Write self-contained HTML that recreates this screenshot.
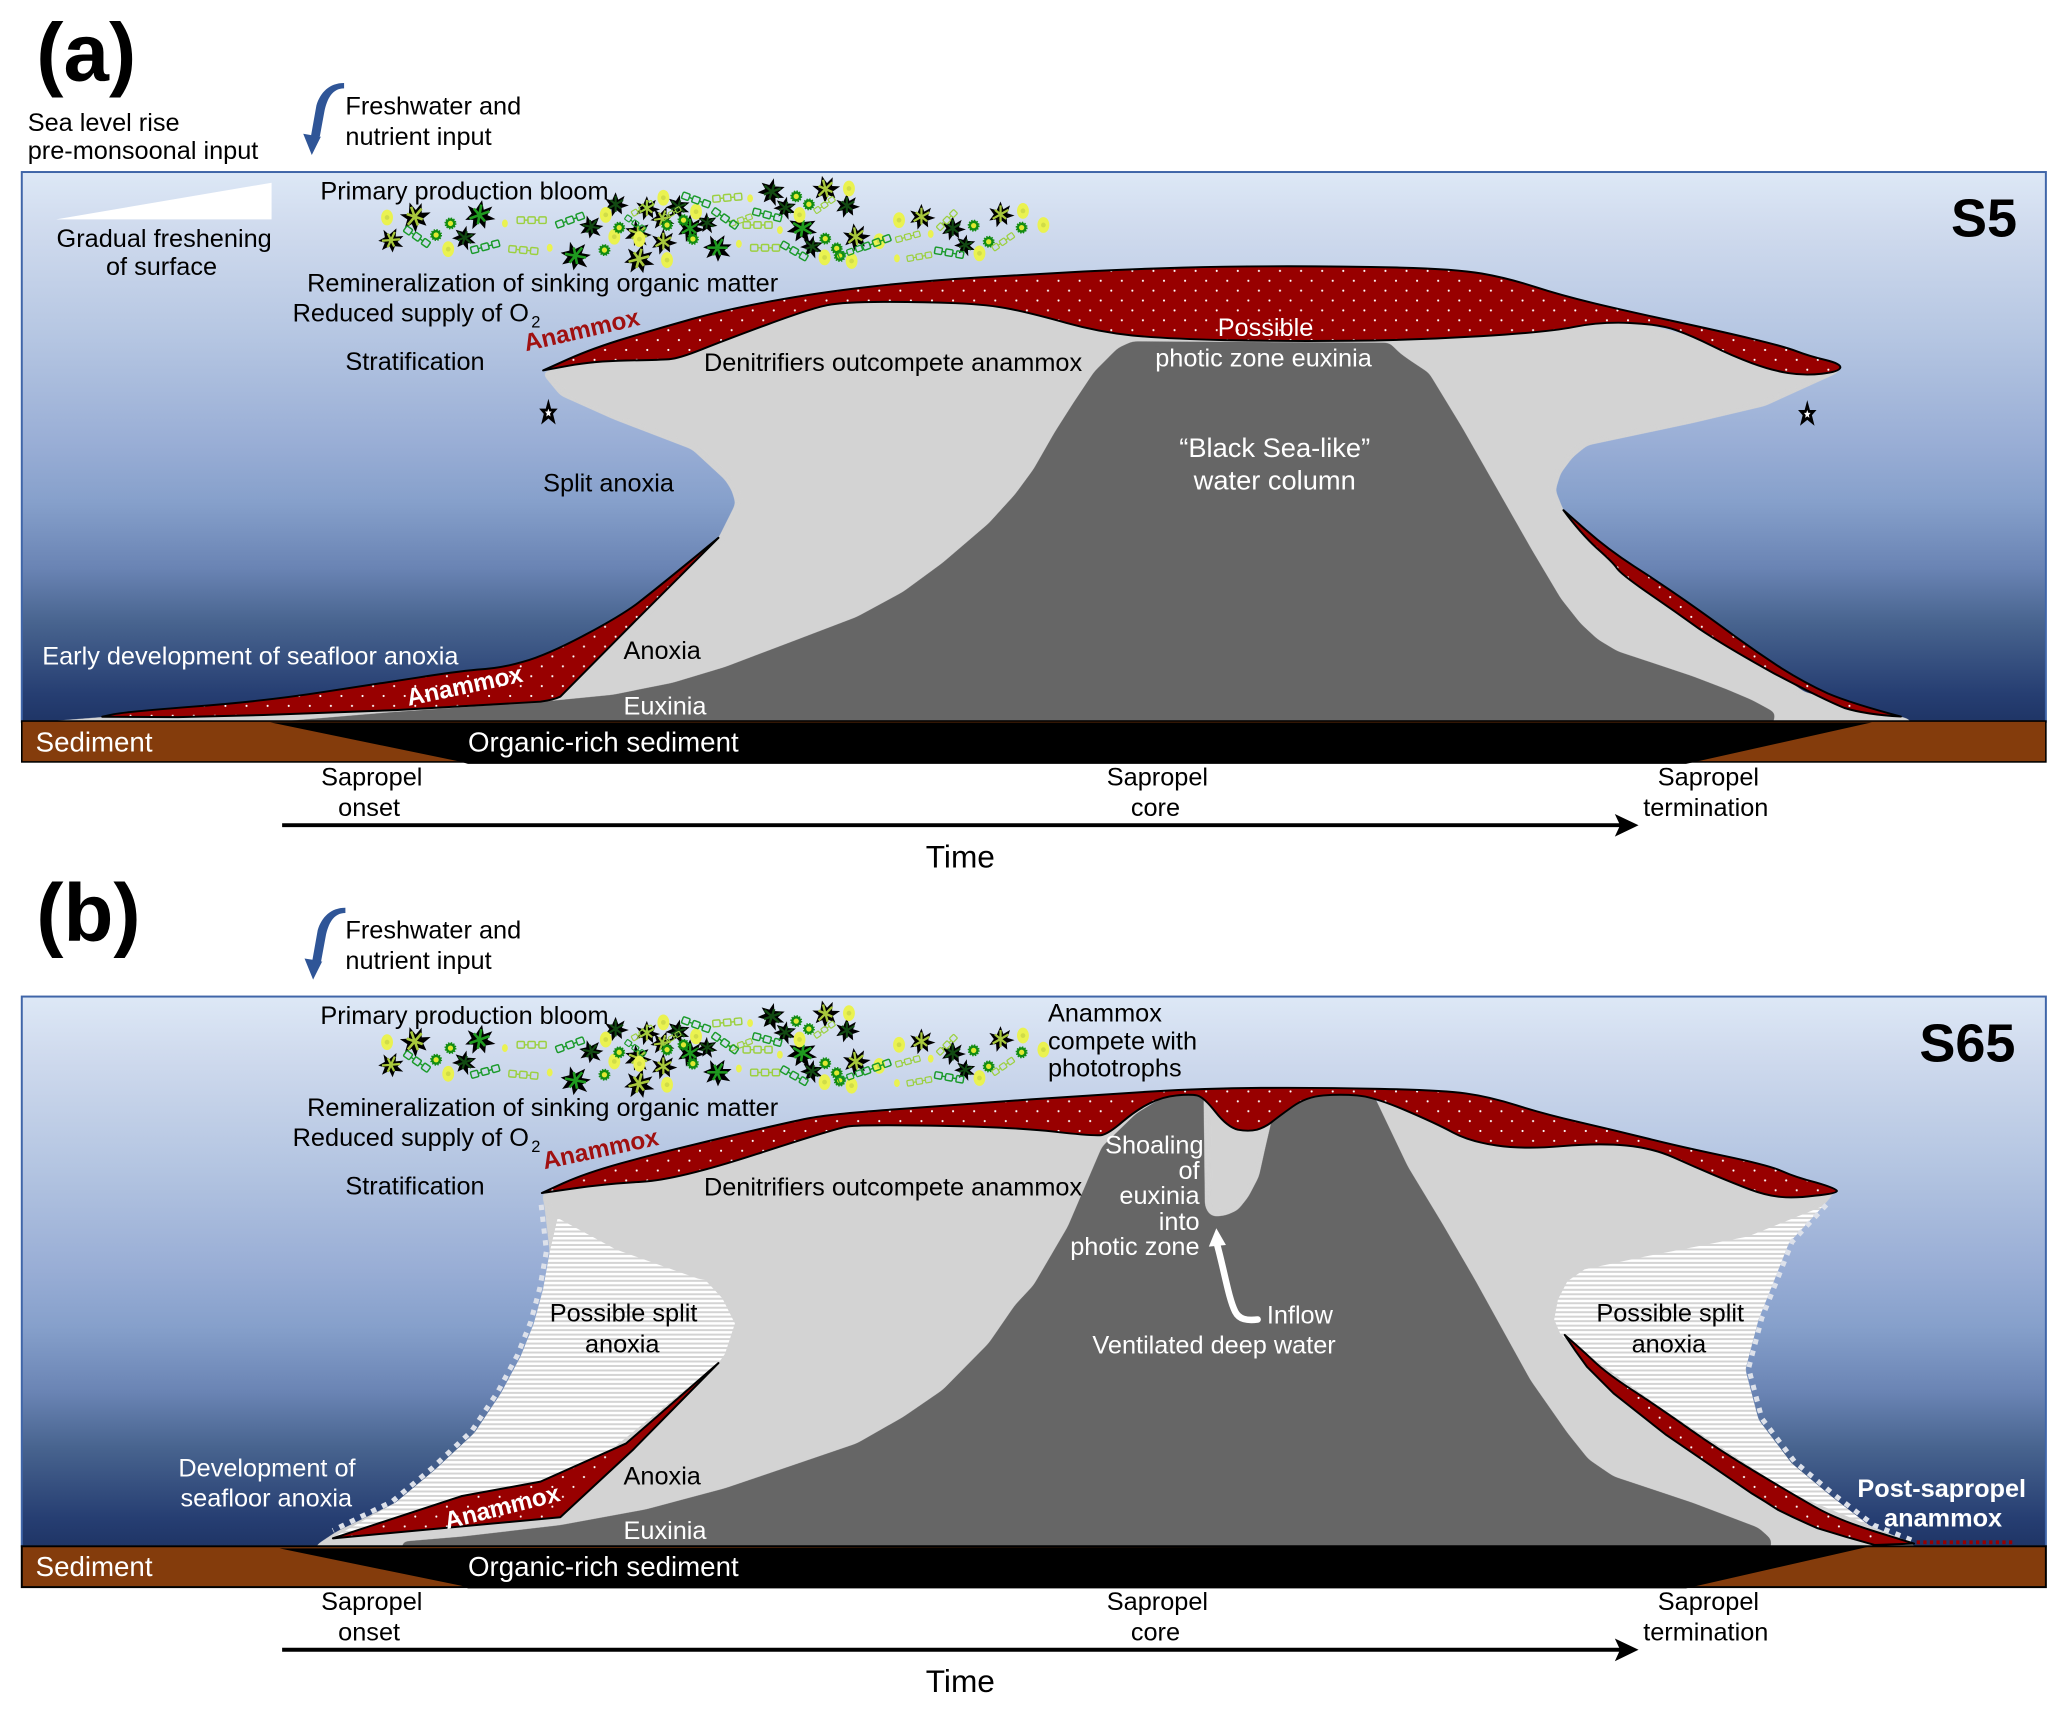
<!DOCTYPE html>
<html><head><meta charset="utf-8"><style>
html,body{margin:0;padding:0;background:#fff}
svg{display:block}
text{font-family:"Liberation Sans",sans-serif;font-size:19.2px;fill:#000}
.w{fill:#fff}.b{font-weight:bold}.m{text-anchor:middle}.e{text-anchor:end}
.r{fill:url(#dots);stroke:#000;stroke-width:1.5;stroke-linejoin:round}
.big{font-size:21px}
</style></head><body>
<svg xmlns="http://www.w3.org/2000/svg" width="2067" height="1713" viewBox="0 0 1568 1299.5">
<defs>
<filter id="sm" filterUnits="userSpaceOnUse" x="0" y="0" width="1568" height="1300" color-interpolation-filters="sRGB">
<feGaussianBlur stdDeviation="2.5"/>
<feComponentTransfer><feFuncA type="linear" slope="12" intercept="-5.5"/></feComponentTransfer>
</filter>
<linearGradient id="sea" x1="0" y1="0" x2="0" y2="1">
<stop offset="0" stop-color="#dde8f6"/><stop offset=".1" stop-color="#d0dbee"/><stop offset=".3" stop-color="#b5c6e2"/><stop offset=".5" stop-color="#98add5"/><stop offset=".6" stop-color="#86a0cb"/><stop offset=".72" stop-color="#6a84b4"/><stop offset=".82" stop-color="#48648f"/><stop offset=".95" stop-color="#263e72"/><stop offset="1" stop-color="#1f3566"/>
</linearGradient>
<pattern id="dots" patternUnits="userSpaceOnUse" width="16" height="15">
<rect width="16" height="15" fill="#980000"/><circle cx="3" cy="3" r=".8" fill="#fff"/><circle cx="11" cy="10.5" r=".8" fill="#fff"/>
</pattern>
<pattern id="hatch" patternUnits="userSpaceOnUse" width="10" height="3.4">
<rect width="10" height="3.4" fill="#fff"/><rect y="1.9" width="10" height="1.5" fill="#d3d3d3"/>
</pattern>
<g id="l"><path d="M0-11.500L2.500-4.500 8.500-8 6-1 12.500 1 5.500 3.500 6 9.500 1 5.500-3.500 11.500-4 4.500-10 5.500-6 0-10-5.500-3.500-3.500Z" fill="#000" stroke="none"/><path d="M0-8L0 7M-7 4L7-4M-5-4L5 4" fill="none" stroke-width="2"/></g>
<g id="g"><circle r="3.800" fill="#128c12" stroke="#128c12" stroke-width="1.500" stroke-dasharray="1 1"/><circle r="2" fill="#dfe830"/></g>
<g id="y"><ellipse rx="4.500" ry="6" fill="#eaf250"/><circle r="1.800" fill="#d0dc48"/></g>
<g id="s"><ellipse rx="2.200" ry="3" fill="#eaf250"/></g>
<g id="c" fill="none" stroke-width="1.100"><rect x="-11" y="-2.500" width="5.500" height="5" rx="1"/><rect x="-2.800" y="-2.500" width="5.500" height="5" rx="1"/><rect x="5.500" y="-2.500" width="5.500" height="5" rx="1"/><path d="M-5.500 0H-2.800M2.700 0H5.500"/></g>
<g id="bloom">
<g stroke="#1f9a1f">
<use href="#l" transform="translate(363.700 163.100) rotate(10)"/><use href="#l" transform="translate(436.500 194) rotate(40)"/><use href="#l" transform="translate(523.500 173.200) scale(.9)"/><use href="#l" transform="translate(544.200 187.900) scale(.95) rotate(30)"/><use href="#l" transform="translate(608.600 173.200) rotate(60)"/>
</g>
<g stroke="#a8c83c">
<use href="#l" transform="translate(314.600 164.400) rotate(-20)"/><use href="#l" transform="translate(296.600 182.100) scale(.85) rotate(25)"/><use href="#l" transform="translate(484.600 196.500) rotate(15)"/><use href="#l" transform="translate(503.200 183.400) scale(.85)"/><use href="#l" transform="translate(484 177) scale(.9) rotate(50)"/><use href="#l" transform="translate(490.700 158) scale(.8)"/><use href="#l" transform="translate(502.500 165.700) scale(.8) rotate(20)"/><use href="#l" transform="translate(626.200 143.400) scale(.9) rotate(-15)"/><use href="#l" transform="translate(649.200 179.600) scale(.9) rotate(-10)"/><use href="#l" transform="translate(699 164.400) scale(.85)"/><use href="#l" transform="translate(759 162.600) scale(.85)"/>
</g>
<g stroke="#124a12">
<use href="#l" transform="translate(352.500 180.300) scale(.8) rotate(70)"/><use href="#l" transform="translate(448.400 172) scale(.8) rotate(40)"/><use href="#l" transform="translate(467 155) scale(.8)"/><use href="#l" transform="translate(514.400 156.800) scale(.8) rotate(70)"/><use href="#l" transform="translate(536.400 169) scale(.7) rotate(60)"/><use href="#l" transform="translate(585.500 145.400) scale(.9) rotate(70)"/><use href="#l" transform="translate(595.700 157.600) scale(.75) rotate(70)"/><use href="#l" transform="translate(642.400 156) scale(.8)"/><use href="#l" transform="translate(616 187) scale(.75) rotate(70)"/><use href="#l" transform="translate(722.700 173.200) scale(.8)"/><use href="#l" transform="translate(732.200 185.900) scale(.7) rotate(70)"/>
</g>
<use href="#y" x="293.600" y="165"/><use href="#s" x="383" y="169.500"/><use href="#y" x="340" y="189"/><use href="#s" x="417" y="188"/><use href="#y" x="459.500" y="163"/><use href="#y" x="466" y="179.600"/><use href="#y" x="485" y="181.400"/><use href="#y" x="506" y="197.300"/><use href="#y" x="503.200" y="150"/><use href="#y" x="528" y="160.600"/><use href="#s" x="569" y="150.500"/><use href="#y" x="644" y="143"/><use href="#s" x="560.500" y="185"/><use href="#s" x="591.600" y="174.500"/><use href="#y" x="606.500" y="163"/><use href="#y" x="646" y="198"/><use href="#y" x="625.500" y="195.300"/><use href="#y" x="667" y="183"/><use href="#y" x="682" y="167"/><use href="#s" x="706" y="177.500"/><use href="#y" x="743" y="192.200"/><use href="#y" x="776" y="160"/><use href="#y" x="791.500" y="170.700"/><use href="#s" x="680.400" y="196"/>
<use href="#g" x="341.700" y="169.500"/><use href="#g" x="330.800" y="178.300"/><use href="#g" x="458.500" y="189.700"/><use href="#g" x="469.700" y="172.700"/><use href="#g" x="518.500" y="167"/><use href="#g" x="506" y="170.700"/><use href="#g" x="525.600" y="181.300"/><use href="#g" x="604" y="149"/><use href="#g" x="613.600" y="155"/><use href="#g" x="626" y="181"/><use href="#g" x="634.700" y="188.400"/><use href="#g" x="637" y="194.200"/><use href="#g" x="738.600" y="171.200"/><use href="#g" x="750" y="183.400"/><use href="#g" x="775" y="172.700"/>
<g stroke="#9cd040">
<use href="#c" transform="translate(403.300 167)"/><use href="#c" transform="translate(397 189.700) rotate(5)"/><use href="#c" transform="translate(487.300 158) rotate(-30) scale(.8)"/><use href="#c" transform="translate(551.700 150) rotate(-5)"/><use href="#c" transform="translate(509.300 162) rotate(-30) scale(.7)"/><use href="#c" transform="translate(562 167) rotate(-20) scale(.8)"/><use href="#c" transform="translate(574.700 170.700)"/><use href="#c" transform="translate(580.400 188)"/><use href="#c" transform="translate(625.500 155.500) rotate(-35) scale(.8)"/><use href="#c" transform="translate(688.700 179.600) rotate(-15) scale(.85)"/><use href="#c" transform="translate(697.400 194.700) rotate(-10) scale(.85)"/><use href="#c" transform="translate(718.300 167) rotate(-45) scale(.85)"/><use href="#c" transform="translate(761 183.400) rotate(-35) scale(.85)"/>
</g>
<g stroke="#1a9a2a">
<use href="#c" transform="translate(432.400 167) rotate(-20)"/><use href="#c" transform="translate(316.300 179.600) rotate(35)"/><use href="#c" transform="translate(368 187.200) rotate(-15)"/><use href="#c" transform="translate(528 151.700) rotate(20)"/><use href="#c" transform="translate(482 169.500) rotate(35) scale(.8)"/><use href="#c" transform="translate(550 165.700) rotate(35)"/><use href="#c" transform="translate(582 163) rotate(15)"/><use href="#c" transform="translate(602.500 190.400) rotate(30)"/><use href="#c" transform="translate(645 191) rotate(-20) scale(.85)"/><use href="#c" transform="translate(665 183.900) rotate(-20)"/><use href="#c" transform="translate(720 191.700) rotate(10)"/>
</g>
</g>
<g id="star"><path d="M0-10.500L2-3 7-3 3.500 1 5.500 9 0 4.500-5.500 9-3.500 1-7-3-2-3Z" fill="#000"/><path d="M0-3L.8-.8 2.500-.8 1.200 .8 1.600 3 0 1.800-1.600 3-1.200 .8-2.500-.8-.8-.8Z" fill="#fff"/></g>
<g id="timeline">
<path d="M214 626H1232" stroke="#000" stroke-width="3" fill="none"/>
<path d="M1243 626L1225 617.500 1229 626 1225 634.700Z" fill="#000"/>
<text class="m" x="282" y="596">Sapropel</text><text class="m" x="280" y="619">onset</text>
<text class="m" x="878" y="596">Sapropel</text><text class="m" x="876.500" y="619">core</text>
<text class="m" x="1296" y="596">Sapropel</text><text class="m" x="1294" y="619">termination</text>
<text class="m" style="font-size:24px" x="728.500" y="658">Time</text>
</g>
<path id="fw" d="M261 63L261 67C252 67 248 75 246 85L242.500 104 243.500 103.500 236.500 117.600 230 101.500 236 102.500 240 80C243 70 250 63 261 63Z" fill="#2f5597"/>
</defs>

<rect width="1568" height="1299.500" fill="#fff"/>

<!-- PANEL A -->
<rect x="16.500" y="130.500" width="1535.500" height="417" fill="url(#sea)" stroke="#3f65a8" stroke-width="1.500"/>
<path filter="url(#sm)" fill="#d3d3d3" d="M411 283L450 268 620 228 784 220 934 220 1104 220 1184 230 1304 260 1397 278 1394 283 1339 308 1284 321 1204 338 1193 347 1184 359 1180 372 1186 387 1220 425 1279 462 1369 525 1449 545.500 1452 556 20 556 20 548.500 77 544 200 540 300 536 410 530 425 525 480 473 545 408 552 394 558 382 555 372 550 364 525 341 465 318 425 300Z"/>
<path filter="url(#sm)" fill="#666" d="M190 556L205 548 300 540 415 532 465 527 510 518 550 506 600 487 650 468 685 449 715 427 750 397 770 375 784 356 800 328 814 306 830 282 839 273 848 264 859 259 1054 260 1062 268 1069 273 1084 283 1109 324 1162 417 1184 454 1199 473 1212 485 1227 494 1284 513 1310 523 1329 531 1342 538 1347 541 1343 556Z"/>
<rect x="16.500" y="547" width="1535.500" height="31" fill="#843c0c" stroke="#000" stroke-width="1.200"/>
<path d="M205 548L350 578 355 579.500 1279 579.500 1420 548Z" fill="#000"/>
<path d="M206 138.600V166.400H42.500Z" fill="#fff"/>
<path class="r" d="M412 281L431 272.500Q450 264 475 256.500Q500 249 525 242Q550 235 585 228.500Q620 222 660 217.500Q700 213 742 210.500Q784 208 822 206Q860 204 897 203Q934 202 977 202Q1020 202 1062 203Q1104 204 1124 207.500Q1144 211 1164 217.500Q1184 224 1209 230Q1234 236 1269 243.500Q1304 251 1329 257Q1354 263 1363 266.500Q1372 270 1384.500 273Q1397 276 1396 279Q1395 282 1382 283.500Q1369 285 1356.500 283Q1344 281 1329 275.500Q1314 270 1299 262.500Q1284 255 1271.500 250.500Q1259 246 1236.500 245Q1214 244 1194 248Q1174 252 1124 255Q1074 258 1024 258.500Q974 259 929 258Q884 257 859 254.500Q834 252 809 245Q784 238 767 234.500Q750 231 725 230Q700 229 670 229Q640 229 627.500 231.500Q615 234 582.500 246Q550 258 532.500 265Q515 272 507.500 272.500Q500 273 475 273.500Q450 274 431 277.500Z"/>
<path class="r" d="M77.500 543.700L86 541.900Q95 540 147 536Q200 532 245 525Q290 518 317 514Q345 509.600 362 508Q380 507 397 502Q415 497 445 481Q475 465 487 455Q500 445 545 408L480 473 425 528.500Q420 531 410 532.300L300 538.700 200 542.400 135 544Z"/>
<path class="r" d="M1186 387L1203 402Q1220 417 1239.500 429.500Q1259 442 1279 456Q1299 470 1316.500 483Q1334 495.600 1351.500 507Q1369 518 1386.500 526Q1404 533.500 1442 543.600Q1415 542 1399 537Q1384 531 1346 511Q1309 490.500 1289 477Q1269 462.700 1249 449Q1229 435 1226.500 431Q1224 427 1211.500 416Q1199 404.600 1186 387Z"/>
<use href="#star" x="416" y="313"/><use href="#star" x="1371" y="314"/>
<use href="#bloom"/>
<use href="#fw"/>
<use href="#timeline"/>

<text class="b" style="font-size:62px" x="27.500" y="61">(a)</text>
<text x="21" y="99.500">Sea level rise</text><text x="21" y="120.700">pre-monsoonal input</text>
<text x="262" y="87">Freshwater and</text><text x="262" y="110">nutrient input</text>
<text x="243" y="151.500">Primary production bloom</text>
<text class="m" x="124.500" y="187.500">Gradual freshening</text><text class="m" x="122.500" y="208.600">of surface</text>
<text x="233" y="221">Remineralization of sinking organic matter</text>
<text x="222" y="244">Reduced supply of O</text><text style="font-size:12.500px" x="403" y="248.500">2</text>
<text class="b" style="font-size:18.500px;fill:#a01010" transform="translate(399 266.500) rotate(-13)">Anammox</text>
<text x="262" y="280.500">Stratification</text>
<text x="534" y="281.500">Denitrifiers outcompete anammox</text>
<text class="w m" x="960" y="255">Possible</text><text class="w m" x="958.500" y="278">photic zone euxinia</text>
<text class="w m" style="font-size:20.700px" x="967" y="346.500">“Black Sea-like”</text><text class="w m" style="font-size:20.700px" x="967" y="371.500">water column</text>
<text class="b" style="font-size:41px" x="1480" y="179.600">S5</text>
<text x="412" y="373">Split anoxia</text>
<text class="w" x="32" y="504">Early development of seafloor anoxia</text>
<text x="473" y="500">Anoxia</text><text class="w" x="473" y="542">Euxinia</text>
<text class="b w" style="font-size:18.500px" transform="translate(310 535.500) rotate(-12)">Anammox</text>
<text class="w big" x="27" y="570">Sediment</text><text class="w big" x="355" y="570">Organic-rich sediment</text>

<!-- PANEL B -->
<rect x="16.500" y="756" width="1535.500" height="417" fill="url(#sea)" stroke="#3f65a8" stroke-width="1.500"/>
<path filter="url(#sm)" fill="#d3d3d3" d="M411 905L450 893 620 853 800 840 1100 835 1223 860 1393 903 1383 915 1357 943 1344 976 1334 1001 1324 1039 1334 1077 1359 1110 1389 1135 1419 1158 1452 1171 1454 1182 238 1182 240 1172 255 1162 300 1140 330 1115 360 1087 380 1057 395 1029 405 1004 412 978 417 950 413 915Z"/>
<path fill="url(#hatch)" d="M423 924L467.500 948 529.500 970 535 971 548 985 557.500 1004 550 1027 545 1034 420 1135 255 1165 300 1140 330 1115 360 1087 380 1057 395 1029 405 1004 412 978 417 950Z"/>
<path fill="url(#hatch)" d="M1383 915L1326 938 1249 953 1202 963 1189 972 1181.800 986 1179 1001 1184 1012.700 1260 1068 1359 1133 1452 1171 1419 1158 1389 1135 1359 1110 1334 1077 1324 1039 1334 1001 1344 976 1357 943Z"/>
<path transform="translate(-2.500 -1)" fill="none" stroke="#dde1ea" stroke-width="3.800" stroke-dasharray="4 5" d="M413 915L417 950 412 978 405 1004 395 1029 380 1057 360 1087 330 1115 300 1140 255 1162"/>
<path transform="translate(2.500 -1)" fill="none" stroke="#dde1ea" stroke-width="3.800" stroke-dasharray="4 5" d="M1383 915L1357 943 1344 976 1334 1001 1324 1039 1334 1077 1359 1110 1389 1135 1419 1158 1452 1171"/>
<path filter="url(#sm)" fill="#666" d="M305 1182L305 1169.500 350 1165.700 425 1157 490 1145 550 1129 600 1112 650 1095 685 1075 715 1054.500 750 1019 770 990 784 975 810 930.500 836 869.800 862 844.600 885 830.600 905 830 913 833 970 847 991 832 1022 829 1042 830.600 1068 885 1094 928 1119 971 1161 1047 1189 1087 1205 1107 1224 1120 1284 1140 1334 1159 1344 1168 1342 1182Z"/>
<path filter="url(#sm)" fill="#d3d3d3" d="M913 828L914 915 917 921 921 923 930 922 939 918 947 908 955 892.600 960 870 967 840Z"/>
<rect x="16.500" y="1173" width="1535.500" height="31" fill="#843c0c" stroke="#000" stroke-width="1.500"/>
<path d="M212 1174.600L350 1203 355 1205 1279 1205 1419 1173Z" fill="#000"/>
<path class="r" d="M411 905L427.500 897.500Q444 890 471 882.500Q498 875 546.500 863.500Q595 852 612.500 848.500Q630 845 680 841.500Q730 838 782 834Q834 830.600 873.500 828Q913 825.600 956.500 825.300Q1000 825 1047 826Q1094 827 1112 829.500Q1130 832 1150.500 838.500Q1171 845 1197 851Q1223 857 1249 863.500Q1275 870 1308.500 877Q1342 884 1352 888.500Q1362 893 1377.500 897Q1393 901.500 1393.500 903.500Q1393 905.500 1377 907Q1362 909 1351 908Q1340 907 1328 902.500Q1316 898 1300.500 891.500Q1285 885 1269.500 878Q1254 871 1233.500 869Q1213 867 1184.500 869.500Q1156 872 1135.500 869Q1115 866 1102 859Q1089 852 1065.500 842Q1042 832 1029.500 831Q1017 830 1004 831Q991 832 980.500 839.500Q970 847 965 851Q960 855 953.500 857Q947 858.500 939 857Q931 855 922 843.500Q913 832 908 831Q903 830 892.500 831Q882 832 872 837Q862 842 851.500 851Q841 860 836 861Q831 862 800 858.500Q769 855 711 854Q653 853 643.500 854.500Q634 856 574 875.500Q514 895 487 896.500Q460 898 435.500 901.500Z"/>
<path class="r" d="M252.500 1167L350 1135 410 1124 475 1095 545 1034 480 1100 425 1151Z"/>
<path class="r" d="M1187 1012.700Q1199 1023 1209 1032.500Q1219 1042 1239 1055Q1259 1068 1281.500 1084Q1304 1100 1331.500 1116.500Q1359 1133 1376.500 1143Q1394 1153 1423 1162L1452 1171 1422 1172Q1400 1166 1379 1159.400Q1364 1153 1349 1145.500Q1339 1139 1329 1133L1264 1088.600 1224 1057Q1214 1047 1204 1037Q1195 1025 1187 1012.700Z"/>
<path d="M1454 1170H1527" stroke="#980000" stroke-width="3" stroke-dasharray="2.500 2.500" fill="none"/>
<path d="M923 943C929 965 932 985 937 995C940 1001 946 1002 954 1001" fill="none" stroke="#fff" stroke-width="5" stroke-linecap="round"/>
<path d="M922.700 931.800L917 945.700 930 944.500Z" fill="#fff"/>
<use href="#bloom" y="625.600"/>
<use href="#fw" x="1" y="625.600"/>
<use href="#timeline" y="625.500"/>

<text class="b" style="font-size:62px" x="27.500" y="714">(b)</text>
<text x="262" y="712">Freshwater and</text><text x="262" y="735">nutrient input</text>
<text x="243" y="777">Primary production bloom</text>
<text x="795" y="775">Anammox</text><text x="795" y="796">compete with</text><text x="795" y="816.500">phototrophs</text>
<text x="233" y="846.700">Remineralization of sinking organic matter</text>
<text x="222" y="869.500">Reduced supply of O</text><text style="font-size:12.500px" x="403" y="874">2</text>
<text class="b" style="font-size:18.500px;fill:#a01010" transform="translate(413 887) rotate(-12)">Anammox</text>
<text x="262" y="906">Stratification</text>
<text x="534" y="907">Denitrifiers outcompete anammox</text>
<text class="b" style="font-size:41px" x="1456" y="805.400">S65</text>
<text class="w e" x="913" y="875">Shoaling</text><text class="w e" x="910" y="894.400">of</text><text class="w e" x="910" y="913.300">euxinia</text><text class="w e" x="910" y="933">into</text><text class="w e" x="910" y="952">photic zone</text>
<text class="w" x="961" y="1004">Inflow</text><text class="w m" x="921" y="1026.700">Ventilated deep water</text>
<text x="417" y="1002.600">Possible split</text><text class="m" x="472" y="1026">anoxia</text>
<text x="1211" y="1002.600">Possible split</text><text class="m" x="1266" y="1026">anoxia</text>
<text class="w m" x="202.500" y="1120">Development of</text><text class="w m" x="202" y="1143">seafloor anoxia</text>
<text class="b w" style="font-size:18.500px" transform="translate(339 1160) rotate(-14)">Anammox</text>
<text x="473" y="1126">Anoxia</text><text class="w" x="473" y="1167.500">Euxinia</text>
<text class="b w m" x="1473" y="1135.500">Post-sapropel</text><text class="b w m" x="1474" y="1158">anammox</text>
<text class="w big" x="27" y="1195.500">Sediment</text><text class="w big" x="355" y="1195.500">Organic-rich sediment</text>
</svg>
</body></html>
